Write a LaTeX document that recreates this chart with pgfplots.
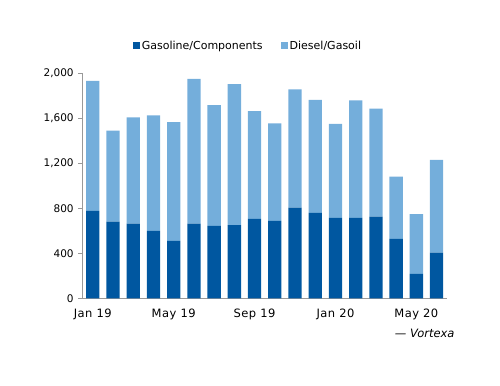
\documentclass[border=0pt]{standalone}
\usepackage{pgfplots}
\pgfplotsset{compat=1.18}
\usepackage{fontspec}
\setmainfont{DejaVu Sans}
\definecolor{gas}{RGB}{0,87,160}
\definecolor{die}{RGB}{116,174,219}
\begin{document}
\begin{tikzpicture}
\useasboundingbox (0,0) rectangle (500bp,386bp);
\begin{axis}[
  at={(82.7bp,87.7bp)}, anchor=south west,
  scale only axis, width=364bp, height=224.6bp,
  xmin=-0.5, xmax=17.5, ymin=0, ymax=2000,
  ybar stacked, bar width=13.3bp,
  axis x line*=bottom, axis y line*=left,
  axis line style={draw=gray!80, line width=0.8pt},
  every tick/.style={gray!80, line width=0.8pt},
  tick align=outside,
  ytick={0,400,...,2000},
  major tick length=4.5bp,
  yticklabel style={/pgf/number format/1000 sep={,}, /pgf/number format/assume math mode=true, font=\fontsize{10.5bp}{12bp}\selectfont, xshift=-1bp},
  xtick={0,4,8,12,16},
  xticklabels={Jan 19,May 19,Sep 19,Jan 20,May 20},
  x tick style={draw=none},
  xticklabel style={font=\fontsize{11.5bp}{13bp}\selectfont\addfontfeature{LetterSpace=4}, yshift=-2.5bp},
  extra x ticks={-0.5,3.5,7.5,11.5,15.5},
  extra x tick labels={},
  extra x tick style={major tick length=4.5bp, tick style={draw=gray!80, line width=0.8pt}},
  legend columns=2,
  legend style={draw=none, fill=none, at={(0.454,1.122)}, anchor=center, font=\fontsize{11bp}{13bp}\selectfont, /tikz/every even column/.append style={column sep=16bp}},
  legend image code/.code={\fill[#1] (0bp,-3.2bp) rectangle (7bp,3.8bp);},
]
\addplot+[fill=gas, draw=none] coordinates {
(0,778) (1,683) (2,665) (3,600) (4,511) (5,665) (6,645) (7,651) (8,707)
(9,689) (10,808) (11,760) (12,716) (13,716) (14,728) (15,529) (16,217) (17,407)};
\addplot+[fill=die, draw=none] coordinates {
(0,1157) (1,809) (2,945) (3,1028) (4,1058) (5,1290) (6,1076) (7,1257) (8,960)
(9,868) (10,1052) (11,1008) (12,838) (13,1046) (14,962) (15,555) (16,532) (17,826)};
\legend{Gasoline/Components, Diesel/Gasoil}
\end{axis}
\node[anchor=east, font=\fontsize{11.5bp}{13bp}\selectfont\itshape] at (458bp,53bp) {--- Vortexa};
\end{tikzpicture}
\end{document}
